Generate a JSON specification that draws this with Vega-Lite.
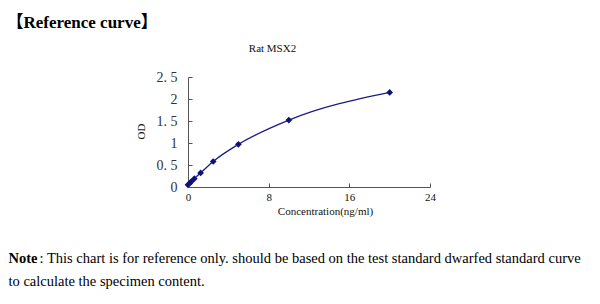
{
  "$schema": "https://vega.github.io/schema/vega-lite/v6.json",
  "autosize": "none",
  "width": 242,
  "height": 110,
  "padding": {"left": 188, "top": 77, "right": 170, "bottom": 117},
  "background": "white",
  "config": {"view": {"stroke": null}, "axis": {"grid": false}},
  "data": {"values": [
    {"conc": 0, "od": 0.05},
    {"conc": 0.156, "od": 0.08},
    {"conc": 0.3125, "od": 0.12},
    {"conc": 0.625, "od": 0.19},
    {"conc": 1.25, "od": 0.32},
    {"conc": 2.5, "od": 0.58},
    {"conc": 5, "od": 0.97},
    {"conc": 10, "od": 1.52},
    {"conc": 20, "od": 2.15}
  ]},
  "resolve": {"axis": {"x": "independent", "y": "independent"}},
  "layer": [
    {
      "mark": {"type": "line", "interpolate": "monotone", "color": "#1c1c86", "strokeWidth": 1.3},
      "encoding": {
        "x": {"field": "conc", "type": "quantitative", "scale": {"domain": [0, 24], "nice": false},
          "axis": {"orient": "bottom", "values": [0, 8, 16, 24], "title": "Concentration(ng/ml)",
            "titleX": 137, "titleY": 24, "titleAlign": "center", "titleBaseline": "middle",
            "titleFont": "Liberation Serif", "titleFontSize": 11, "titleFontWeight": "normal", "titleColor": "#111",
            "labelFont": "Liberation Serif", "labelFontSize": 11, "labelColor": "#111", "labelPadding": 8,
            "domainColor": "#555", "tickColor": "#555", "tickSize": -4, "labelFlush": false}},
        "y": {"field": "od", "type": "quantitative", "scale": {"domain": [0, 2.5], "nice": false},
          "axis": {"orient": "left", "values": [0, 0.5, 1, 1.5, 2, 2.5], "title": "OD", "format": "~g",
            "labelExpr": "replace(datum.label, '.', '.\u00a0')",
            "titleX": -47, "titleY": 54, "titleAngle": -90, "titleAlign": "center", "titleBaseline": "middle",
            "titleFont": "Liberation Serif", "titleFontSize": 11, "titleFontWeight": "normal", "titleColor": "#111",
            "labelFont": "Liberation Serif", "labelFontSize": 14, "labelColor": "#333", "labelPadding": 15,
            "domainColor": "#555", "tickColor": "#555", "tickSize": -4}}
      }
    },
    {
      "mark": {"type": "point", "shape": "diamond", "filled": true, "color": "#10107e", "size": 45, "opacity": 1},
      "encoding": {
        "x": {"field": "conc", "type": "quantitative",
          "axis": {"orient": "top", "title": "Rat MSX2", "labels": false, "ticks": false, "domain": false,
            "titleX": 84, "titleY": -29, "titleAlign": "center", "titleBaseline": "middle",
            "titleFont": "Liberation Serif", "titleFontSize": 11, "titleFontWeight": "normal", "titleColor": "#111"}},
        "y": {"field": "od", "type": "quantitative",
          "axis": {"orient": "right", "title": "【Reference curve】", "labels": false, "ticks": false, "domain": false,
            "titleX": -424, "titleY": -55, "titleAngle": 0, "titleAlign": "left", "titleBaseline": "middle",
            "titleFont": "Liberation Serif, Noto Sans CJK SC", "titleFontSize": 17, "titleFontWeight": "bold", "titleColor": "#000"}}
      }
    },
    {
      "mark": {"type": "point", "opacity": 0},
      "encoding": {
        "x": {"field": "conc", "type": "quantitative",
          "axis": {"orient": "bottom", "title": "Note", "labels": false, "ticks": false, "domain": false,
            "titleX": -180, "titleY": 71, "titleAlign": "left", "titleBaseline": "middle",
            "titleFont": "Liberation Serif", "titleFontSize": 14.5, "titleFontWeight": "bold", "titleColor": "#000"}},
        "y": {"field": "od", "type": "quantitative",
          "axis": {"orient": "right", "title": ": This chart is for reference only. should be based on the test standard dwarfed standard curve", "labels": false, "ticks": false, "domain": false,
            "titleX": -391, "titleY": 181, "titleAngle": 0, "titleAlign": "left", "titleBaseline": "middle",
            "titleFont": "Liberation Serif", "titleFontSize": 14.5, "titleFontWeight": "normal", "titleColor": "#000"}}
      }
    },
    {
      "mark": {"type": "point", "opacity": 0},
      "encoding": {
        "x": {"field": "conc", "type": "quantitative", "axis": null},
        "y": {"field": "od", "type": "quantitative",
          "axis": {"orient": "left", "title": "to calculate the specimen content.", "labels": false, "ticks": false, "domain": false,
            "titleX": -180, "titleY": 204, "titleAngle": 0, "titleAlign": "left", "titleBaseline": "middle",
            "titleFont": "Liberation Serif", "titleFontSize": 14.5, "titleFontWeight": "normal", "titleColor": "#000"}}
      }
    }
  ]
}
